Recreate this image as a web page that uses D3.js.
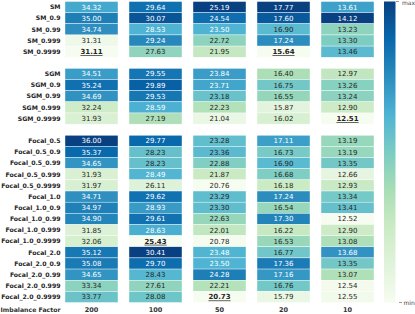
<!DOCTYPE html>
<html>
<head>
<meta charset="utf-8">
<script src="https://cdn.jsdelivr.net/npm/d3@7"></script>
<style>
  html, body { margin: 0; padding: 0; background: #fff; }
  svg { display: block; font-family: "DejaVu Sans", sans-serif; }
</style>
</head>
<body>
<div id="chart"></div>
<script>
const factors = ["200", "100", "50", "20", "10"];

// null marks a blank spacer row between method groups
const rowLabels = [
  "SM", "SM_0.9", "SM_0.99", "SM_0.999", "SM_0.9999", null,
  "SGM", "SGM_0.9", "SGM_0.99", "SGM_0.999", "SGM_0.9999", null,
  "Focal_0.5", "Focal_0.5_0.9", "Focal_0.5_0.99", "Focal_0.5_0.999", "Focal_0.5_0.9999",
  "Focal_1.0", "Focal_1.0_0.9", "Focal_1.0_0.99", "Focal_1.0_0.999", "Focal_1.0_0.9999",
  "Focal_2.0", "Focal_2.0_0.9", "Focal_2.0_0.99", "Focal_2.0_0.999", "Focal_2.0_0.9999"
];

const values = [
  [34.32, 29.64, 25.19, 17.77, 13.61],
  [35.00, 30.07, 24.54, 17.60, 14.12],
  [34.74, 28.53, 23.50, 16.90, 13.23],
  [31.31, 29.24, 22.72, 17.24, 13.30],
  [31.11, 27.63, 21.95, 15.64, 13.46],
  null,
  [34.51, 29.55, 23.84, 16.40, 12.97],
  [35.24, 29.89, 23.71, 16.75, 13.26],
  [34.69, 29.53, 23.18, 16.55, 13.24],
  [32.24, 28.59, 22.23, 15.87, 12.90],
  [31.93, 27.19, 21.04, 16.02, 12.51],
  null,
  [36.00, 29.77, 23.28, 17.11, 13.19],
  [35.37, 28.23, 23.36, 16.73, 13.19],
  [34.65, 28.23, 22.88, 16.90, 13.35],
  [31.93, 28.49, 21.87, 16.68, 12.66],
  [31.97, 26.11, 20.76, 16.18, 12.93],
  [34.71, 29.62, 23.29, 17.24, 13.34],
  [34.97, 28.93, 23.30, 16.54, 13.41],
  [34.90, 29.61, 22.63, 17.30, 12.52],
  [31.85, 28.63, 22.01, 16.22, 12.90],
  [32.06, 25.43, 20.78, 16.53, 13.08],
  [35.12, 30.41, 23.48, 16.77, 13.68],
  [35.08, 29.70, 23.50, 17.36, 13.35],
  [34.65, 28.43, 24.28, 17.16, 13.07],
  [33.34, 27.61, 22.21, 16.76, 12.54],
  [33.77, 28.08, 20.73, 15.79, 12.55]
];

const width = 415, height = 314;
const svg = d3.select("#chart").append("svg").attr("width", width).attr("height", height);

const x = d3.scaleBand().domain(factors).range([65, 374]).paddingInner(0.172).paddingOuter(0);
const y = d3.scaleBand().domain(d3.range(rowLabels.length)).range([1.5, 302.5]);

// matplotlib-style GnBu: linear through the 9 brewer stops
const stops = d3.schemeGnBu[9];
const cmap = d3.scaleLinear().domain(d3.range(9).map(i => i / 8)).range(stops).interpolate(d3.interpolateRgb).clamp(true);

function luminance(c) {
  const rgb = d3.rgb(c);
  const f = v => { v /= 255; return v <= 0.03928 ? v / 12.92 : Math.pow((v + 0.055) / 1.055, 2.4); };
  return 0.2126 * f(rgb.r) + 0.7152 * f(rgb.g) + 0.0722 * f(rgb.b);
}

const colExtent = factors.map((f, j) => d3.extent(values.filter(r => r), r => r[j]));

const cells = [];
values.forEach((row, i) => {
  if (!row) return;
  row.forEach((v, j) => {
    const [lo, hi] = colExtent[j];
    cells.push({ i, j, v, t: (v - lo) / (hi - lo), isMin: v === lo });
  });
});

const g = svg.append("g");
g.selectAll("rect").data(cells).join("rect")
  .attr("x", d => x(factors[d.j]))
  .attr("y", d => y(d.i))
  .attr("width", x.bandwidth())
  .attr("height", y.bandwidth())
  .attr("fill", d => cmap(d.t))
  .attr("stroke", "#fff")
  .attr("stroke-width", 0.4);

g.selectAll("text.val").data(cells).join("text")
  .attr("class", "val")
  .attr("x", d => x(factors[d.j]) + x.bandwidth() / 2)
  .attr("y", d => y(d.i) + y.bandwidth() / 2)
  .attr("dy", "0.36em")
  .attr("text-anchor", "middle")
  .attr("font-size", 7)
  .attr("font-weight", d => d.isMin ? "bold" : "normal")
  .attr("text-decoration", d => d.isMin ? "underline" : null)
  .attr("fill", d => luminance(cmap(d.t)) > 0.408 ? "#262626" : "#fff")
  .text(d => d.v.toFixed(2));

// row labels
svg.append("g").selectAll("text").data(rowLabels.map((l, i) => ({ l, i })).filter(d => d.l)).join("text")
  .attr("x", 60.5)
  .attr("y", d => y(d.i) + y.bandwidth() / 2)
  .attr("dy", "0.36em")
  .attr("text-anchor", "end")
  .attr("font-size", 6.2)
  .attr("font-weight", "bold")
  .attr("fill", "#262626")
  .text(d => d.l);

// x tick labels
svg.append("g").selectAll("text").data(factors).join("text")
  .attr("x", d => x(d) + x.bandwidth() / 2)
  .attr("y", 311)
  .attr("dy", "0.15em")
  .attr("text-anchor", "middle")
  .attr("font-size", 6.5)
  .attr("font-weight", "bold")
  .attr("fill", "#333")
  .text(d => d);

svg.append("text")
  .attr("x", 60.5).attr("y", 311).attr("dy", "0.15em")
  .attr("text-anchor", "end")
  .attr("font-size", 6.2)
  .attr("font-weight", "bold")
  .attr("fill", "#333")
  .text("Imbalance Factor");

// colorbar
const defs = svg.append("defs");
const grad = defs.append("linearGradient").attr("id", "cb").attr("x1", 0).attr("y1", 1).attr("x2", 0).attr("y2", 0);
grad.selectAll("stop").data(stops).join("stop")
  .attr("offset", (d, i) => i / 8)
  .attr("stop-color", d => d);

const cbY = d3.scaleLinear().domain([0, 1]).range([302.5, 1.5]);
svg.append("rect")
  .attr("x", 384).attr("y", cbY(1))
  .attr("width", 11.5).attr("height", cbY(0) - cbY(1))
  .attr("fill", "url(#cb)");

const cbTicks = [{ v: 1, l: "max", x0: 396 }, { v: 0, l: "min", x0: 399 }];
const cb = svg.append("g").selectAll("g").data(cbTicks).join("g")
  .attr("transform", d => `translate(${d.x0},${cbY(d.v)})`);
cb.append("line").attr("x1", 0).attr("x2", 3).attr("stroke", "#555").attr("stroke-width", 0.6);
cb.append("text").attr("x", d => d.v ? 6 : 4.5).attr("dy", d => d.v ? "0.55em" : "0.36em")
  .attr("font-size", 6).attr("fill", "#444").text(d => d.l);
</script>
</body>
</html>
